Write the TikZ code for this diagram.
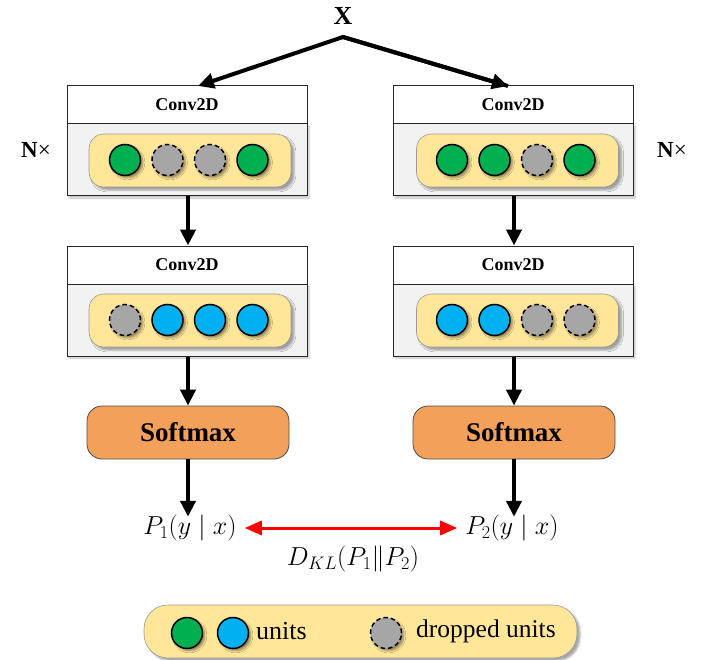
\RequirePackage{fix-cm}
\documentclass[tikz,border=0pt]{standalone}
\usepackage{fontspec}
\setmainfont{Liberation Serif}
\usetikzlibrary{arrows.meta,shadows.blur}

\definecolor{unitgreen}{RGB}{0,176,80}
\definecolor{unitblue}{RGB}{0,176,240}
\definecolor{unitgray}{RGB}{166,166,166}
\definecolor{padyellow}{RGB}{255,230,153}
\definecolor{bodygray}{RGB}{242,242,242}
\definecolor{softorange}{RGB}{243,160,90}

\tikzset{
  header/.style={draw=black!85, line width=1pt, fill=white, minimum width=240pt,
    minimum height=38pt, inner sep=0pt, font=\fontsize{18}{21}\selectfont\bfseries},
  body/.style={draw=black!85, line width=1pt, fill=bodygray, minimum width=240pt,
    minimum height=72pt, inner sep=0pt,
    blur shadow={shadow xshift=2pt, shadow yshift=-2pt, shadow blur steps=4, shadow opacity=25}},
  pad/.style={draw=black!40, line width=0.6pt, fill=padyellow, rounded corners=15pt,
    minimum width=202pt, minimum height=53pt, inner sep=0pt,
    blur shadow={shadow xshift=3pt, shadow yshift=-3pt, shadow blur steps=5, shadow opacity=35}},
  legendpad/.style={pad, rounded corners=24pt, minimum width=433pt},
  unit/.style={circle, draw=black, line width=1.5pt, minimum size=31pt, inner sep=0pt,
    blur shadow={shadow xshift=2.5pt, shadow yshift=-2.5pt, shadow blur steps=5, shadow opacity=40}},
  ugreen/.style={unit, fill=unitgreen},
  ublue/.style={unit, fill=unitblue},
  udrop/.style={unit, fill=unitgray, dash pattern=on 4.5pt off 3pt},
  softbox/.style={draw=black!70, line width=0.8pt, fill=softorange, rounded corners=15pt,
    minimum width=202pt, minimum height=53pt, inner sep=0pt,
    font=\fontsize{27}{30}\selectfont\bfseries},
  flow/.style={line width=4pt, -{Triangle[length=16pt,width=15pt]}},
  kl/.style={red, line width=3pt, {Triangle[length=17pt,width=14pt]}-{Triangle[length=17pt,width=14pt]}},
  txt/.style={inner sep=0pt, font=\fontsize{26}{30}\selectfont},
}

\begin{document}
\begin{tikzpicture}[x=1pt, y=-1pt]
\useasboundingbox (0,0) rectangle (711,660);

% input
\node[txt, font=\fontsize{26}{30}\selectfont\bfseries] (X) at (343,16) {X};
\coordinate (split) at (343,37);

% left branch
\node[body]   (Lb1) at (187,160) {};
\node[header] (Lh1) at (187,105) {Conv2D};
\node[pad]    (Lp1) at (190,160.5) {};
\node[ugreen] (L11) at (125,160) {};
\node[udrop]  (L12) at (167.5,160) {};
\node[udrop]  (L13) at (210,160) {};
\node[ugreen] (L14) at (252.5,160) {};

\node[body]   (Lb2) at (187,320) {};
\node[header] (Lh2) at (187,265) {Conv2D};
\node[pad]    (Lp2) at (190,320.5) {};
\node[udrop]  (L21) at (125,320) {};
\node[ublue]  (L22) at (167.5,320) {};
\node[ublue]  (L23) at (210,320) {};
\node[ublue]  (L24) at (252.5,320) {};

\node[softbox] (Ls) at (188,432.5) {Softmax};
\node[txt] (P1) at (190,528) {$P_1(y\mid x)$};

% right branch
\node[body]   (Rb1) at (513,160) {};
\node[header] (Rh1) at (513,105) {Conv2D};
\node[pad]    (Rp1) at (517.5,160.5) {};
\node[ugreen] (R11) at (452,160) {};
\node[ugreen] (R12) at (494.5,160) {};
\node[udrop]  (R13) at (537,160) {};
\node[ugreen] (R14) at (579.5,160) {};

\node[body]   (Rb2) at (513,320) {};
\node[header] (Rh2) at (513,265) {Conv2D};
\node[pad]    (Rp2) at (517.5,320.5) {};
\node[ublue]  (R21) at (452,320) {};
\node[ublue]  (R22) at (494.5,320) {};
\node[udrop]  (R23) at (537,320) {};
\node[udrop]  (R24) at (579.5,320) {};

\node[softbox] (Rs) at (514,432.5) {Softmax};
\node[txt] (P2) at (512,528) {$P_2(y\mid x)$};

% repetition marks
\node[txt, font=\fontsize{23}{26}\selectfont] (NL) at (36,150) {\textbf{N}×};
\node[txt, font=\fontsize{23}{26}\selectfont] (NR) at (672,150) {\textbf{N}×};

% divergence label
\node[txt] (KL) at (353,559) {$D_{KL}(P_1\|P_2)$};

% connectors
\coordinate (tipL) at (198,86);
\coordinate (tipR) at (508,86);
\draw[flow, line join=miter] (tipR) -- (split) -- (tipL);
\draw[flow] (split) -- (tipR);
\draw[flow] (Lb1.south -| 188,0) -- (Lh2.north -| 188,0);
\draw[flow] (Rb1.south -| 514,0) -- (Rh2.north -| 514,0);
\draw[flow] (Lb2.south -| Ls.north) -- (Ls.north);
\draw[flow] (Rb2.south -| Rs.north) -- (Rs.north);
\draw[flow] (Ls.south) -- ([yshift=-2pt]P1.north -| Ls.south);
\draw[flow] (Rs.south) -- ([yshift=-2pt]P2.north -| Rs.south);
\draw[kl] ([xshift=8pt]P1.east) -- ([xshift=-8pt]P2.west);

% legend
\node[legendpad] (Lg) at (360.5,631.5) {};
\node[ugreen] (G1) at (187,633) {};
\node[ublue]  (G2) at (233,633) {};
\node[txt, anchor=west] (Gu) at (256,631) {units};
\node[udrop]  (G3) at (386,633) {};
\node[txt, anchor=west, font=\fontsize{25.5}{29}\selectfont] (Gd) at (416,631) {dropped units};
\end{tikzpicture}
\end{document}
